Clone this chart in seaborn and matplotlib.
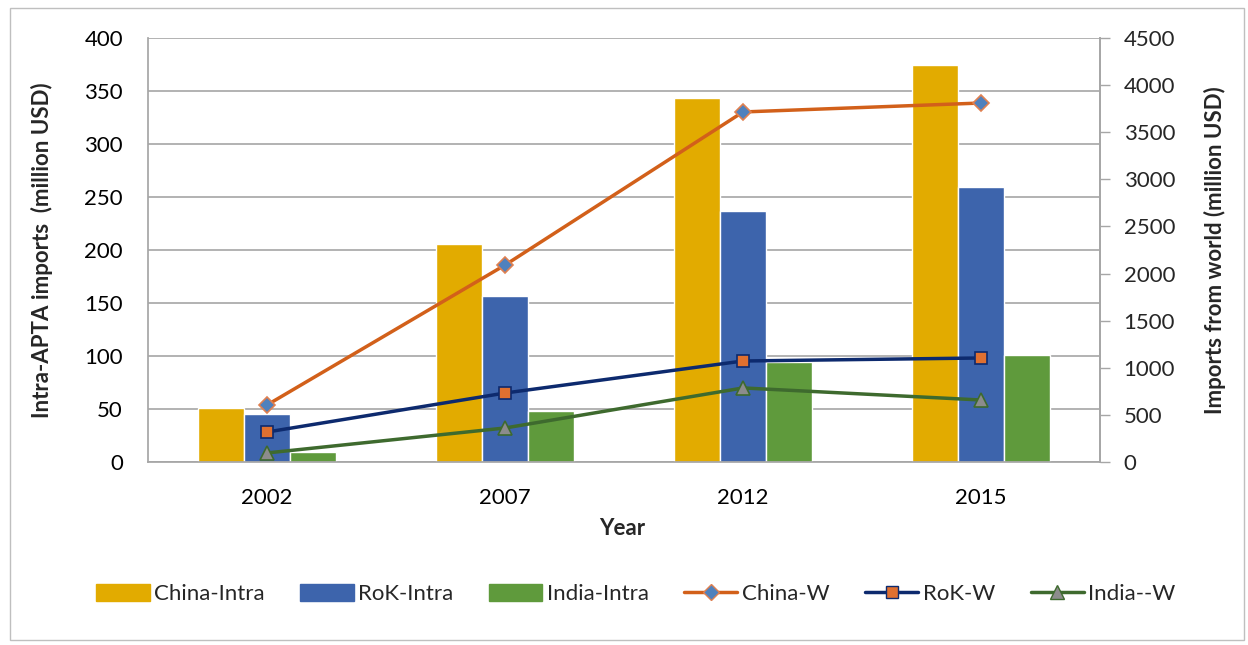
import matplotlib
matplotlib.use("Agg")
import matplotlib.pyplot as plt
import seaborn as sns
import pandas as pd
from matplotlib.patches import Patch, Rectangle
from matplotlib.lines import Line2D

years = ["2002", "2007", "2012", "2015"]
china_intra = [51, 206, 343, 375]
rok_intra = [45, 157, 237, 259]
india_intra = [9, 48, 94, 101]
china_w = [605, 2090, 3715, 3810]
rok_w = [318, 732, 1072, 1104]
india_w = [96, 361, 786, 658]

bar_names = ["China-Intra", "RoK-Intra", "India-Intra"]
line_names = ["China-W", "RoK-W", "India--W"]

sns.set_theme(style="white")
plt.rcParams['font.family'] = ['Lato', 'DejaVu Sans']

fig = plt.figure(figsize=(12.48, 6.45), dpi=100)
ax = fig.add_axes([148/1248, 1-462/645, (1100-148)/1248, (462-38)/645])

df = pd.DataFrame({
    "Year": years * 3,
    "value": china_intra + rok_intra + india_intra,
    "series": [bar_names[0]]*4 + [bar_names[1]]*4 + [bar_names[2]]*4,
})
bar_colors = ["#e2ab00", "#3d64ac", "#5f9a3c"]
sns.barplot(data=df, x="Year", y="value", hue="series", palette=bar_colors,
            width=0.58, ax=ax, saturation=1, legend=False, gap=0)
ax.set_xlim(-0.5, 3.5)
ax.set_ylim(0, 400)
ax.set_yticks(range(0, 401, 50))
ax.grid(axis="y", color="#a6a6a6", linewidth=1.2)
ax.set_axisbelow(True)
for s in ["top", "right", "left", "bottom"]:
    ax.spines[s].set_visible(True)
    ax.spines[s].set_color("#a6a6a6")
ax.spines["top"].set_visible(False)
ax.tick_params(axis="both", labelsize=16, colors="black")
ax.tick_params(axis="x", length=0, pad=19)
ax.tick_params(axis="y", left=False, length=0, pad=18)
ax.set_xlabel("Year", fontsize=16, fontweight="bold")
ax.xaxis.set_label_coords(0.498, -0.132)
ax.set_ylabel("Intra-APTA imports  (million USD)", fontsize=16, fontweight="bold")
ax.yaxis.set_label_coords(-0.1, 0.5)

ax2 = ax.twinx()
xs = [0, 1, 2, 3]
line_styles = [
    dict(color="#d2601a", marker="D", mfc="#4f81bd", mec="#e08050", ms=8),
    dict(color="#0d2a6e", marker="s", mfc="#e07030", mec="#0d2a6e", ms=9),
    dict(color="#3e6a2e", marker="^", mfc="#8c8c8c", mec="#3e6a2e", ms=10),
]
for vals, st in zip([china_w, rok_w, india_w], line_styles):
    sns.lineplot(x=xs, y=vals, ax=ax2, color=st["color"], linewidth=2.5)
    ax2.plot(xs, vals, linestyle="none", marker=st["marker"], markerfacecolor=st["mfc"],
             markeredgecolor=st["mec"], markersize=st["ms"], markeredgewidth=1.2)
ax2.set_ylim(0, 4500)
ax2.set_yticks(range(0, 4501, 500))
ax2.set_xlim(-0.5, 3.5)
for s in ax2.spines.values():
    s.set_visible(False)
ax2.spines["right"].set_visible(True)
ax2.spines["right"].set_color("#a6a6a6")
ax2.tick_params(axis="y", labelsize=16, right=True, length=7, width=1, direction="out",
                color="#a6a6a6", pad=10)
ax2.set_ylabel("Imports from world (million USD)", fontsize=16, fontweight="bold")
ax2.yaxis.set_label_coords(1.109, 0.5)
ax2.grid(False)

handles = [Patch(facecolor=c, edgecolor=c) for c in bar_colors]
handles += [Line2D([0], [0], color=st["color"], linewidth=2.5, marker=st["marker"],
                   markerfacecolor=st["mfc"], markeredgecolor=st["mec"], markersize=st["ms"])
            for st in line_styles]
fig.legend(handles, bar_names + line_names, loc="center", bbox_to_anchor=(636/1248, 1-594/645),
           ncol=6, frameon=False, fontsize=16, handlelength=2.4, handleheight=0.8,
           columnspacing=1.6, handletextpad=0.2)

fig.add_artist(Rectangle((10/1248, 1-640/645), (1244-10)/1248, (640-8)/645,
                         transform=fig.transFigure, fill=False, edgecolor="#bfbfbf", linewidth=1))

fig.savefig("out.png", dpi=100)
